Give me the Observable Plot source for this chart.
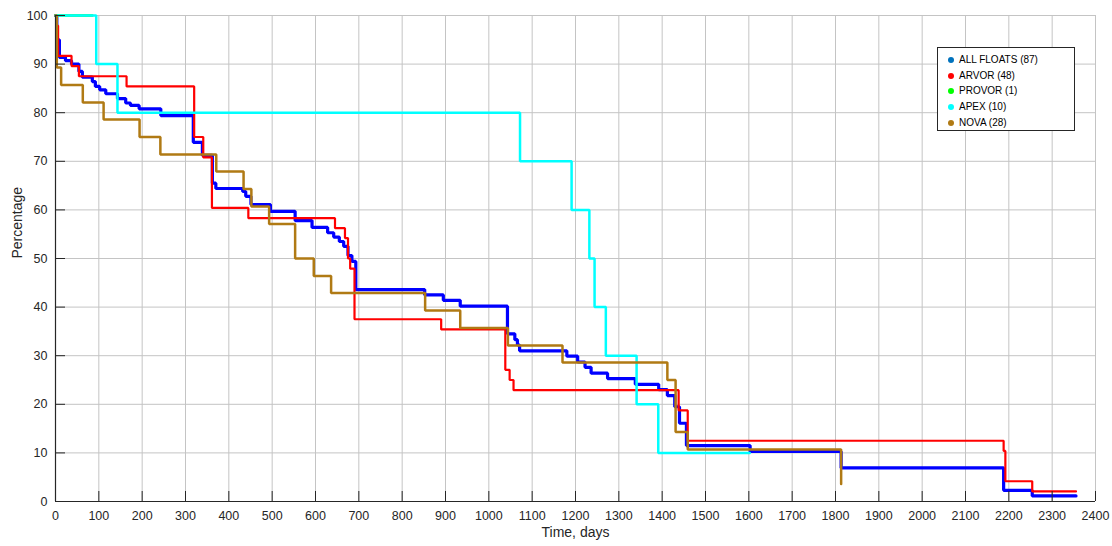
<!DOCTYPE html>
<html>
<head>
<meta charset="utf-8">
<script src="https://cdn.jsdelivr.net/npm/d3@7"></script>
<script src="https://cdn.jsdelivr.net/npm/@observablehq/plot@0.6"></script>
<style>
  html, body { margin: 0; padding: 0; background: #fff; }
  #wrap { position: relative; width: 1112px; height: 546px; }
  #legend {
    position: absolute; left: 937px; top: 47px; width: 136px; height: 82px;
    border: 1.5px solid #262626; background: #fff;
    font-family: "Liberation Sans", Arial, sans-serif; font-size: 10px; color: #000;
  }
  #legend .row { position: absolute; left: 10px; height: 14px; line-height: 14px; white-space: nowrap; }
  #legend .dot { display: inline-block; width: 6px; height: 6px; border-radius: 50%; margin-right: 5px; vertical-align: 0px; }
</style>
</head>
<body>
<div id="wrap"><div id="chart"></div><div id="legend"></div></div>
<script>
// ---- data (days, percentage) ----
const xTicks = d3.range(0, 2401, 100);
const yTicks = d3.range(0, 101, 10);

const allDays = [0, 3, 9, 23, 37, 54, 62, 85, 92, 102, 116, 143, 162, 173, 193, 243, 318, 339, 362, 370, 432, 439, 451, 496, 553, 592, 628, 642, 655, 665, 675, 684, 693, 852, 895, 934, 1043, 1060, 1066, 1071, 1180, 1205, 1222, 1236, 1274, 1338, 1392, 1412, 1429, 1440, 1456, 1603, 1813, 2188, 2254, 2355];
const allPct  = [100, 95, 91.4, 90.7, 90.0, 88.5, 87.3, 86.4, 85.4, 84.7, 83.9, 82.9, 82.0, 81.5, 80.8, 79.4, 73.9, 71.2, 65.5, 64.4, 63.8, 62.8, 61.1, 59.7, 57.8, 56.4, 55.3, 54.4, 53.5, 52.5, 50.6, 49.4, 43.6, 42.5, 41.4, 40.2, 34.5, 33.3, 32.2, 31.0, 29.9, 28.7, 27.6, 26.4, 25.3, 24.1, 23.0, 21.8, 19.5, 16.1, 11.5, 10.3, 6.9, 2.3, 1.15, 1.15];

const arvorDays = [0, 2, 6, 37, 54, 164, 320, 341, 361, 445, 645, 668, 675, 680, 690, 890, 1038, 1048, 1057, 1438, 1459, 2188, 2192, 2254, 2355];
const arvorPct  = [100, 97.9, 91.7, 89.6, 87.5, 85.4, 75.0, 70.8, 60.4, 58.3, 56.25, 54.2, 50.0, 47.9, 37.5, 35.4, 27.1, 25.0, 22.9, 18.75, 12.5, 10.4, 4.17, 2.08, 2.08];

const provorDays = [0, 85];
const provorPct  = [100, 100];

const apexDays = [0, 94, 143, 1072, 1191, 1232, 1244, 1270, 1341, 1391, 1602];
const apexPct  = [100, 90, 80, 70, 60, 50, 40, 30, 20, 10, 10];

const novaDays = [0, 3, 13, 63, 111, 194, 242, 371, 434, 452, 493, 553, 596, 636, 853, 934, 1044, 1170, 1412, 1431, 1459, 1813];
const novaPct  = [100, 89.3, 85.7, 82.1, 78.6, 75.0, 71.4, 67.9, 64.3, 60.7, 57.1, 50.0, 46.4, 42.9, 39.3, 35.7, 32.1, 28.6, 25.0, 14.3, 10.7, 3.6];

const seriesNames  = ["ALL FLOATS (87)", "ARVOR (48)", "PROVOR (1)", "APEX (10)", "NOVA (28)"];
const lineColors   = ["#0000ff", "#ff0000", "#00ff00", "#00ffff", "#b07a14"];
const legendColors = ["#0072bd", "#ff0000", "#00ff00", "#00ffff", "#b07a14"];
const lineWidths   = [3.2, 2.2, 2.5, 2.5, 2.5];

const seriesData = [[allDays, allPct], [arvorDays, arvorPct], [provorDays, provorPct], [apexDays, apexPct], [novaDays, novaPct]];

// ---- chart ----
const W = 1112, H = 546, mL = 55, mR = 17, mT = 15, mB = 45;
const frameW = W - mL - mR, frameH = H - mT - mB;

const lineMarks = seriesData.map(([days, pct], i) =>
  Plot.line(days.map((d, j) => ({day: d, pct: pct[j]})), {
    x: "day", y: "pct", curve: "step-after",
    stroke: lineColors[i], strokeWidth: lineWidths[i], strokeLinejoin: "miter"
  })
);

const chart = Plot.plot({
  width: W, height: H,
  marginLeft: mL, marginRight: mR, marginTop: mT, marginBottom: mB,
  style: {
    fontFamily: "'Liberation Sans', Arial, sans-serif",
    fontSize: "12.5px", color: "#262626", background: "#fff"
  },
  x: {domain: [0, 2400], ticks: xTicks, tickFormat: d => String(d), tickSize: 0, tickPadding: 10, label: null},
  y: {domain: [0, 100], ticks: yTicks, tickFormat: d => String(d), tickSize: 0, tickPadding: 8, label: null},
  marks: [
    Plot.ruleX(xTicks, {x: d => d, stroke: "#c4c4c4", strokeWidth: 1}),
    Plot.ruleY(yTicks, {y: d => d, stroke: "#c4c4c4", strokeWidth: 1}),
    ...lineMarks,
    Plot.tickX(xTicks, {x: d => d, stroke: "#262626", strokeWidth: 1, insetTop: frameH - 10}),
    Plot.tickY(yTicks, {y: d => d, stroke: "#262626", strokeWidth: 1, insetRight: frameW - 10}),
    Plot.ruleX([0], {stroke: "#262626", strokeWidth: 1.2}),
    Plot.ruleY([0], {stroke: "#262626", strokeWidth: 1.2}),
    Plot.text(["Time, days"], {frameAnchor: "bottom", dy: 35, fontSize: 14, fill: "#262626"}),
    Plot.text(["Percentage"], {frameAnchor: "left", dx: -38, rotate: -90, fontSize: 14, fill: "#262626"})
  ]
});
document.getElementById("chart").appendChild(chart);

// ---- legend ----
const legend = document.getElementById("legend");
seriesNames.forEach((name, i) => {
  const row = document.createElement("div");
  row.className = "row";
  row.style.top = (5 + i * 15.7) + "px";
  const dot = document.createElement("span");
  dot.className = "dot";
  dot.style.background = legendColors[i];
  row.appendChild(dot);
  row.appendChild(document.createTextNode(name));
  legend.appendChild(row);
});
</script>
</body>
</html>
